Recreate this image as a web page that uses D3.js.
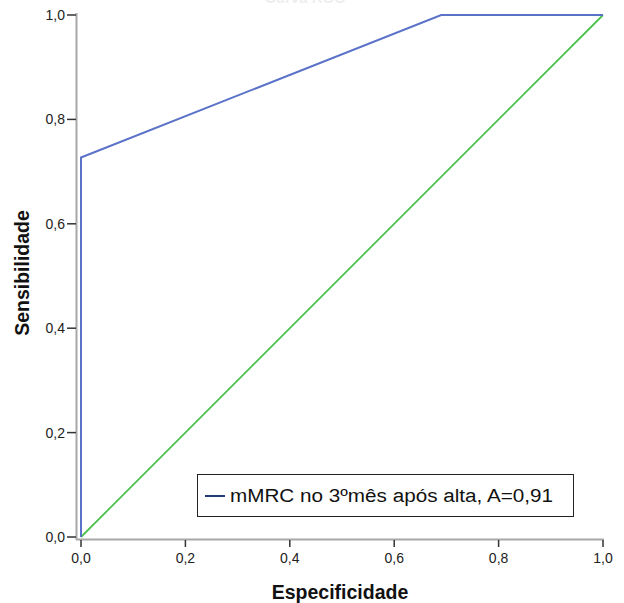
<!DOCTYPE html>
<html>
<head>
<meta charset="utf-8">
<script src="https://cdn.jsdelivr.net/npm/d3@7"></script>
<style>
  html, body { margin: 0; padding: 0; background: #fff; }
  svg { display: block; }
</style>
</head>
<body>
<svg id="chart" width="624" height="603"></svg>
<script>
// ── Data ──────────────────────────────────────────────────────────────────────
const rocX = [0, 0, 0.69, 1]
const rocY = [0, 0.727, 1, 1]
const refX = [0, 1]
const refY = [0, 1]
const ticks = [0, 0.2, 0.4, 0.6, 0.8, 1.0]
const legendLabel = 'mMRC no 3ºmês após alta, A=0,91'

// ── Setup ─────────────────────────────────────────────────────────────────────
const svg = d3.select('#chart')
const x = d3.scaleLinear().domain([0, 1]).range([81, 603])
const y = d3.scaleLinear().domain([0, 1]).range([537, 15])
const fmt = d => d.toFixed(1).replace('.', ',')
const font = 'Liberation Sans, Arial, sans-serif'

// faint, cut-off title
svg.append('text')
  .attr('x', 305).attr('y', 3)
  .attr('text-anchor', 'middle')
  .attr('font-family', font)
  .attr('font-size', 15).attr('font-weight', 'bold')
  .attr('fill', '#eeeeee')
  .text('Curva ROC')

// ── Axes ──────────────────────────────────────────────────────────────────────
const axisColor = '#a8a8a8'
svg.append('line')
  .attr('x1', 76.5).attr('x2', 76.5).attr('y1', 13).attr('y2', 540)
  .attr('stroke', axisColor).attr('stroke-width', 2)
svg.append('line')
  .attr('x1', 76).attr('x2', 604).attr('y1', 539.5).attr('y2', 539.5)
  .attr('stroke', axisColor).attr('stroke-width', 2)

const yAxis = svg.append('g')
yAxis.selectAll('line').data(ticks).join('line')
  .attr('x1', 67).attr('x2', 76)
  .attr('y1', d => y(d)).attr('y2', d => y(d))
  .attr('stroke', '#333').attr('stroke-width', 1.5)
yAxis.selectAll('text').data(ticks).join('text')
  .attr('x', 65).attr('y', d => y(d) + 5)
  .attr('text-anchor', 'end')
  .attr('font-family', font)
  .attr('font-size', 14).attr('fill', '#222')
  .text(fmt)

const xAxis = svg.append('g')
xAxis.selectAll('line').data(ticks).join('line')
  .attr('x1', d => x(d)).attr('x2', d => x(d))
  .attr('y1', 540).attr('y2', 547)
  .attr('stroke', '#333').attr('stroke-width', 1.5)
xAxis.selectAll('text').data(ticks).join('text')
  .attr('x', d => x(d)).attr('y', 563)
  .attr('text-anchor', 'middle')
  .attr('font-family', font)
  .attr('font-size', 14).attr('fill', '#222')
  .text(fmt)

// axis titles
svg.append('text')
  .attr('x', 340).attr('y', 599)
  .attr('text-anchor', 'middle')
  .attr('font-family', font)
  .attr('font-size', 19.5).attr('font-weight', 'bold').attr('fill', '#111')
  .text('Especificidade')
svg.append('text')
  .attr('transform', 'translate(29,273) rotate(-90)')
  .attr('text-anchor', 'middle')
  .attr('font-family', font)
  .attr('font-size', 19.5).attr('font-weight', 'bold').attr('fill', '#111')
  .text('Sensibilidade')

// ── Lines ─────────────────────────────────────────────────────────────────────
const line = d3.line().x(d => x(d[0])).y(d => y(d[1]))
svg.append('path')
  .datum(d3.zip(refX, refY))
  .attr('d', line)
  .attr('fill', 'none').attr('stroke', '#4cc34f').attr('stroke-width', 1.8)
svg.append('path')
  .datum(d3.zip(rocX, rocY))
  .attr('d', line)
  .attr('fill', 'none').attr('stroke', '#5a72c8').attr('stroke-width', 2)

// ── Legend ────────────────────────────────────────────────────────────────────
const lg = svg.append('g')
lg.append('rect')
  .attr('x', 197.5).attr('y', 474.5).attr('width', 376).attr('height', 42)
  .attr('fill', '#fff').attr('stroke', '#222').attr('stroke-width', 1)
lg.append('line')
  .attr('x1', 205).attr('x2', 225).attr('y1', 496).attr('y2', 496)
  .attr('stroke', '#1f3c73').attr('stroke-width', 2)
lg.append('text')
  .attr('x', 230).attr('y', 502)
  .attr('font-family', 'Liberation Sans, Arial, sans-serif')
  .attr('font-size', 18).attr('fill', '#111')
  .attr('textLength', 323).attr('lengthAdjust', 'spacingAndGlyphs')
  .text(legendLabel)
</script>
</body>
</html>
